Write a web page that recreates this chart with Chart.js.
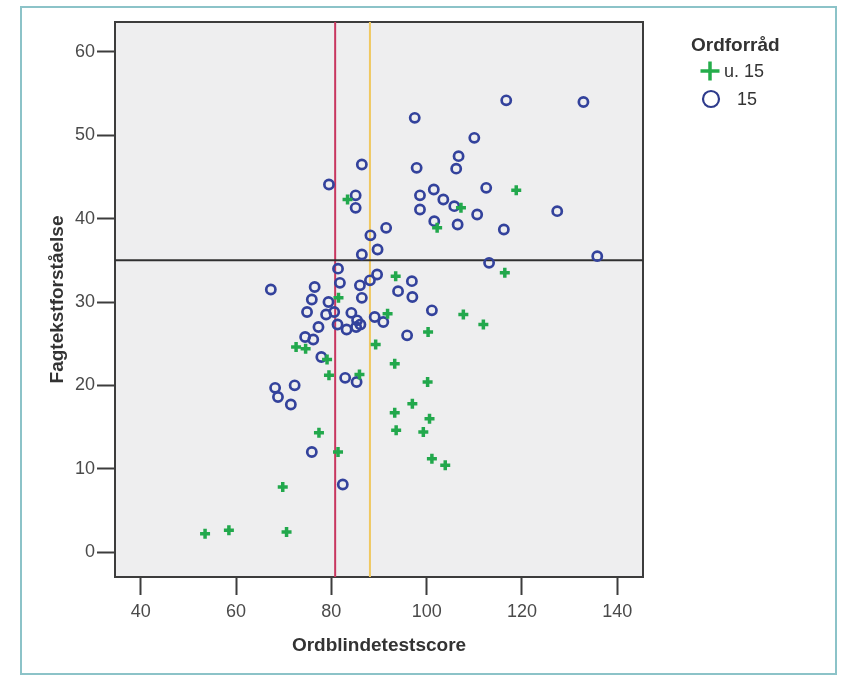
<!DOCTYPE html>
<html>
<head>
<meta charset="utf-8">
<script src="https://cdn.jsdelivr.net/npm/chart.js@4.4.1/dist/chart.umd.min.js"></script>
<style>
  html, body { margin: 0; padding: 0; background: #fff; }
  #wrap { position: relative; width: 852px; height: 678px; overflow: hidden;
          font-family: "Liberation Sans", Arial, sans-serif; color: #333; }
  #frame { position: absolute; left: 20px; top: 6px; width: 817px; height: 669px;
           border: 2px solid #8cc3c8; box-sizing: border-box; }
  #chart { position: absolute; left: 0; top: 0; }
  .lg { position: absolute; line-height: 22px; font-size: 18px; white-space: nowrap; }
  .lg svg { position: absolute; }
</style>
</head>
<body>
<div id="wrap">
  <div id="frame"></div>
  <canvas id="chart" width="852" height="678"></canvas>
  <div class="lg" style="left:691px; top:34px; font-size:19px; font-weight:bold;">Ordforråd</div>
  <svg class="lg" style="left:699px; top:60px;" width="22" height="22">
    <path d="M11 1.5V20.5M1.5 11H20.5" stroke="#25ad4b" stroke-width="3.5"/>
  </svg>
  <div class="lg" style="left:724px; top:60px;">u. 15</div>
  <svg class="lg" style="left:700px; top:88px;" width="22" height="22">
    <circle cx="11" cy="11" r="8" fill="none" stroke="#2e3b8c" stroke-width="2.2"/>
  </svg>
  <div class="lg" style="left:737px; top:88px;">15</div>
</div>
<script>
// axes
const xTicks = [40, 60, 80, 100, 120, 140];
const yTicks = [0, 10, 20, 30, 40, 50, 60];
const xRange = [34.6, 145.4];
const yRange = [-3, 63.6];

// reference lines
const cutRed = 80.8;
const cutYellow = 88.1;
const cutHoriz = 35;

// Ordforråd u. 15
const under15X = [118.8, 83.4, 107.2, 102.2, 116.4, 93.5, 81.5, 91.8, 100.3, 72.6,
  74.6, 89.3, 79.1, 93.3, 79.5, 85.9, 100.2, 97.0, 93.3, 100.6,
  93.6, 99.3, 77.4, 81.4, 101.1, 103.9, 69.8, 53.5, 58.5, 70.6,
  107.7, 111.9];
const under15Y = [43.4, 42.3, 41.3, 38.9, 33.5, 33.1, 30.5, 28.6, 26.4, 24.6,
  24.4, 24.9, 23.1, 22.6, 21.2, 21.3, 20.4, 17.8, 16.7, 16.0,
  14.6, 14.4, 14.3, 12.0, 11.2, 10.4, 7.8, 2.2, 2.6, 2.4,
  28.5, 27.3];

// Ordforråd 15
const over15X = [116.7, 132.9, 97.5, 110.0, 86.4, 106.7, 106.2, 97.9, 79.5, 112.5,
  101.5, 98.6, 85.1, 85.1, 103.5, 105.8, 98.6, 110.6, 127.4, 101.6,
  106.5, 116.2, 91.5, 88.2, 89.7, 86.4, 113.1, 135.8, 81.4, 89.6,
  96.9, 81.8, 86.0, 76.5, 94.0, 97.0, 86.4, 88.1, 67.3, 75.9,
  79.4, 101.1, 74.9, 78.9, 80.6, 84.2, 89.1, 90.9, 85.4, 85.2,
  86.1, 83.2, 81.3, 77.3, 95.9, 74.5, 76.2, 77.9, 82.9, 85.3,
  68.2, 72.3, 68.8, 71.5, 75.9, 82.4];
const over15Y = [54.2, 54.0, 52.1, 49.7, 46.5, 47.5, 46.0, 46.1, 44.1, 43.7,
  43.5, 42.8, 42.8, 41.3, 42.3, 41.5, 41.1, 40.5, 40.9, 39.7,
  39.3, 38.7, 38.9, 38.0, 36.3, 35.7, 34.7, 35.5, 34.0, 33.3,
  32.5, 32.3, 32.0, 31.8, 31.3, 30.6, 30.5, 32.6, 31.5, 30.3,
  30.0, 29.0, 28.8, 28.5, 28.8, 28.7, 28.2, 27.6, 27.8, 27.0,
  27.3, 26.7, 27.3, 27.0, 26.0, 25.8, 25.5, 23.4, 20.9, 20.4,
  19.7, 20.0, 18.6, 17.7, 12.0, 8.1];

const FONT = '"Liberation Sans", Arial, sans-serif';
const toPoints = (xs, ys) => xs.map((x, i) => ({ x, y: ys[i] }));

// grey plot background and the dark box around it
const plotFrame = {
  id: 'plotFrame',
  beforeDraw(chart) {
    const { ctx, chartArea: a } = chart;
    ctx.save();
    ctx.fillStyle = '#eeeeef';
    ctx.fillRect(a.left, a.top, a.right - a.left, a.bottom - a.top);
    ctx.restore();
  },
  beforeDatasetsDraw(chart) {
    const { ctx, chartArea: a } = chart;
    ctx.save();
    ctx.strokeStyle = '#3c3c3c';
    ctx.lineWidth = 2;
    ctx.strokeRect(a.left, a.top, a.right - a.left, a.bottom - a.top);
    ctx.restore();
  }
};

function refLine(points, color) {
  return {
    data: points,
    showLine: true,
    borderColor: color,
    borderWidth: 2,
    pointRadius: 0,
    order: 10
  };
}

new Chart(document.getElementById('chart'), {
  type: 'scatter',
  data: {
    datasets: [
      {
        label: 'u. 15',
        data: toPoints(under15X, under15Y),
        pointStyle: 'cross',
        pointRadius: 5,
        borderColor: '#22a84c',
        backgroundColor: '#22a84c',
        pointBorderWidth: 3.5,
        order: 1
      },
      {
        label: '15',
        data: toPoints(over15X, over15Y),
        pointStyle: 'circle',
        pointRadius: 4.6,
        borderColor: '#33429c',
        backgroundColor: 'rgba(0,0,0,0)',
        pointBorderWidth: 2.7,
        order: 2
      },
      refLine([{ x: xRange[0], y: cutHoriz }, { x: xRange[1], y: cutHoriz }], '#303030'),
      refLine([{ x: cutRed, y: yRange[0] }, { x: cutRed, y: yRange[1] }], '#c8375f'),
      refLine([{ x: cutYellow, y: yRange[0] }, { x: cutYellow, y: yRange[1] }], '#f0c860')
    ]
  },
  options: {
    responsive: false,
    animation: false,
    events: [],
    layout: { padding: { left: 0, right: 209, top: 22, bottom: 0 } },
    plugins: { legend: { display: false }, tooltip: { enabled: false } },
    scales: {
      x: {
        type: 'linear',
        min: xRange[0],
        max: xRange[1],
        afterBuildTicks: s => { s.ticks = xTicks.map(v => ({ value: v })); },
        afterFit: s => { s.height = 101; },
        border: { display: false },
        grid: { drawOnChartArea: false, tickLength: 18, tickWidth: 2, tickColor: '#3c3c3c' },
        ticks: { padding: 6, color: '#4a4a4a', maxRotation: 0, autoSkip: false, font: { family: FONT, size: 18 } },
        title: {
          display: true, text: 'Ordblindetestscore', color: '#333',
          font: { family: FONT, size: 19, weight: 'bold' }, padding: { top: 0, bottom: 21 }
        }
      },
      y: {
        type: 'linear',
        min: yRange[0],
        max: yRange[1],
        afterBuildTicks: s => { s.ticks = yTicks.map(v => ({ value: v })); },
        afterFit: s => { s.width = 115; },
        border: { display: false },
        grid: { drawOnChartArea: false, tickLength: 18, tickWidth: 2, tickColor: '#3c3c3c' },
        ticks: { padding: 2, color: '#4a4a4a', autoSkip: false, font: { family: FONT, size: 18 } },
        title: {
          display: true, text: 'Fagtekstforståelse', color: '#333',
          font: { family: FONT, size: 19, weight: 'bold' }, padding: { top: 46, bottom: 0 }
        }
      }
    }
  },
  plugins: [plotFrame]
});
</script>
</body>
</html>
